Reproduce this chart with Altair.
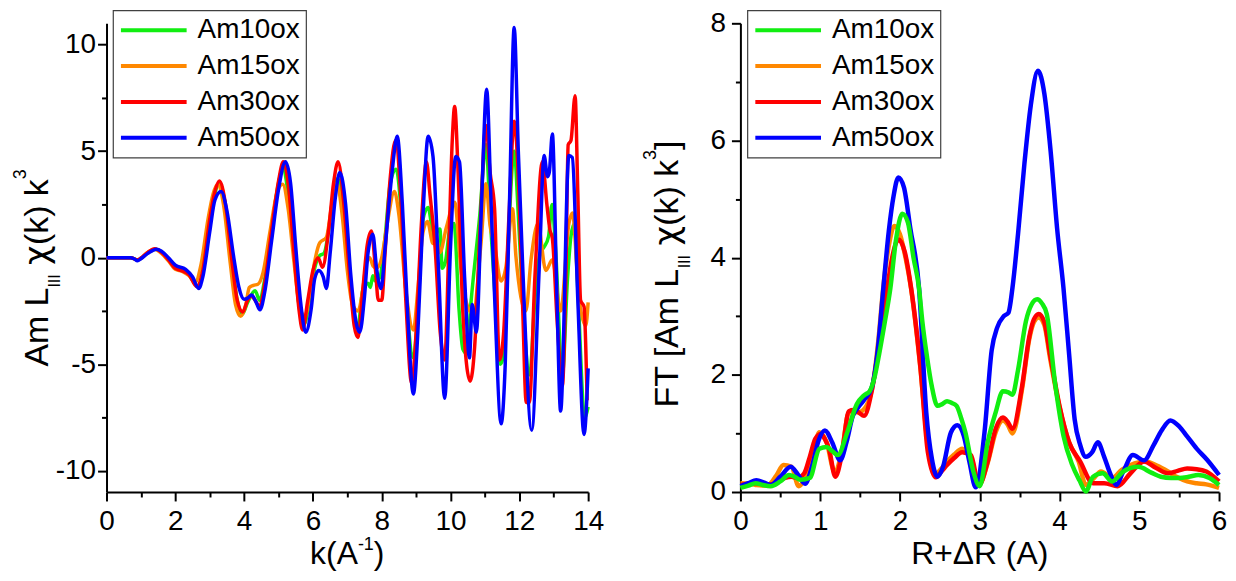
import altair as alt
import pandas as pd

FONT = "Liberation Sans"
SERIES = ["Am10ox", "Am15ox", "Am30ox", "Am50ox"]
COLORS = ["#11ee11", "#ff8800", "#ff0000", "#0000ff"]

# ---- left panel: k (A^-1) vs chi(k) k^3 ----
K10 = [0.0, 0.7, 0.9, 1.2, 1.42, 1.6, 1.8, 2.0, 2.2, 2.4, 2.65, 2.8, 3.0, 3.15, 3.28, 3.45, 3.65, 3.8, 3.95, 4.1,
       4.32, 4.45, 4.6, 4.8, 5.0, 5.12, 5.28, 5.45, 5.6, 5.75, 5.9, 6.05, 6.2, 6.32, 6.5, 6.62, 6.72, 6.9, 7.05, 7.2,
       7.31, 7.45, 7.6, 7.67, 7.74, 7.82, 7.95, 8.1, 8.25, 8.42, 8.55, 8.7, 8.92, 9.05, 9.2, 9.35, 9.45, 9.54, 9.62, 9.69,
       9.76, 9.85, 10.0, 10.1, 10.25, 10.36, 10.47, 10.6, 10.85, 11.03, 11.15, 11.28, 11.45, 11.55, 11.7, 11.85, 11.97,
       12.1, 12.3, 12.45, 12.6, 12.72, 12.85, 12.95, 13.05, 13.25, 13.4, 13.5, 13.6, 13.7, 13.9, 14.0]
C10 = [0, 0, -0.1, 0.22, 0.4, 0.28, -0.05, -0.45, -0.58, -0.8, -1.35, -0.7, 1.6, 3.0, 3.5, 2.5, -0.3, -2.0, -2.65, -2.1,
       -1.55, -2.0, -1.0, 1.4, 3.5, 4.2, 3.0, 0.3, -2.3, -3.1, -2.0, -0.5, 0.1, 0.2, 1.8, 3.3, 3.7, 2.2, -0.5, -2.8,
       -3.2, -1.5, -1.2, -1.4, -0.85, -1.1, -0.9, 1.0, 3.5, 4.15, 2.5, -1.5, -4.7, -2.5, 1.8, 2.36, 1.5, 0.75, 1.3, 1.35,
       -0.5, -0.2, 1.5, 1.6, -2.5, -4.3, -4.5, -2.0, 2.0, 5.3, 2.0, -1.5, -5.0, -4.5, 1.5, 5.0, 2.0,
       -2.0, -5.5, -2.0, 0.2, 0.5, 1.0, 2.5, 0.5, -5.5, -1.0, 1.0, 1.6, -1.5, -7.5, -7.0]

K15 = [0.0, 0.7, 0.9, 1.2, 1.4, 1.6, 1.8, 2.0, 2.2, 2.4, 2.58, 2.75, 2.95, 3.1, 3.23, 3.4, 3.6, 3.75, 3.9, 4.05,
       4.15, 4.27, 4.4, 4.55, 4.75, 4.95, 5.12, 5.28, 5.45, 5.6, 5.77, 5.92, 6.05, 6.2, 6.39, 6.55, 6.7, 6.85, 7.0, 7.15,
       7.31, 7.45, 7.55, 7.65, 7.75, 7.85, 8.0, 8.15, 8.37, 8.5, 8.7, 8.92, 9.05, 9.2, 9.33, 9.49, 9.6, 9.69, 9.88, 10.12,
       10.3, 10.46, 10.65, 10.89, 11.03, 11.15, 11.28, 11.47, 11.61, 11.8, 11.9, 12.19, 12.34, 12.54, 12.77, 12.96, 13.2,
       13.44, 13.54, 13.73, 13.93, 14.0]
C15 = [0, 0, -0.1, 0.25, 0.4, 0.2, -0.15, -0.55, -0.65, -0.85, -1.15, -0.3, 1.8, 3.0, 3.45, 2.5, -0.3, -2.2, -2.75, -2.2,
       -1.4, -1.3, -1.25, -0.7, 1.2, 3.0, 3.45, 2.3, -0.2, -2.2, -2.75, -1.6, -0.2, 0.7, 0.95, 2.5, 3.5, 2.0, -0.6, -2.2,
       -2.5, -1.5, -0.3, 0.0, -0.4, -0.5, 0.0, 1.5, 3.1, 2.0, -1.5, -3.4, -1.5, 1.2, 1.7, 0.66, 0.8, 0.24, 1.43, 2.6,
       -0.5, -2.1, -2.65, 0.75, 3.47, 1.5, 0.58, -1.1, -0.44, 2.3, 0.07, -2.5, -0.1, 1.6, -0.6, -0.1, -2.5,
       1.6, 2.1, -1.8, -3.2, -2.1]

K30 = [0.0, 0.7, 0.9, 1.0, 1.2, 1.4, 1.6, 1.8, 2.0, 2.2, 2.4, 2.62, 2.8, 3.0, 3.15, 3.28, 3.45, 3.65, 3.8, 3.96,
       4.1, 4.2, 4.32, 4.45, 4.6, 4.8, 5.0, 5.14, 5.3, 5.45, 5.6, 5.7, 5.85, 6.0, 6.15, 6.28, 6.45, 6.6, 6.73, 6.9,
       7.05, 7.2, 7.31, 7.45, 7.58, 7.7, 7.82, 7.9, 8.0, 8.1, 8.25, 8.4, 8.55, 8.7, 8.87, 9.0, 9.15, 9.3, 9.4, 9.55,
       9.7, 9.83, 9.95, 10.05, 10.12, 10.22, 10.36, 10.57, 10.7, 10.85, 11.03, 11.15, 11.28, 11.42, 11.54, 11.7, 11.85,
       11.99, 12.1, 12.2, 12.29, 12.45, 12.67, 12.8, 12.89, 12.96, 13.1, 13.25, 13.35, 13.42, 13.5, 13.62, 13.7, 13.78,
       13.88, 13.97]
C30 = [0, 0, -0.1, -0.02, 0.25, 0.42, 0.25, -0.1, -0.5, -0.62, -0.8, -1.35, -0.6, 1.8, 3.1, 3.6, 2.6, -0.2, -2.0, -2.55,
       -2.0, -1.8, -2.0, -2.3, -1.2, 1.3, 3.6, 4.5, 3.2, 0.2, -2.5, -3.4, -2.0, -0.6, 0.0, -0.45, 1.2, 3.5, 4.5, 2.5,
       -0.5, -3.2, -3.75, -1.5, 0.6, 1.25, -0.6, -2.0, -2.0, 0.3, 3.8, 5.5, 3.0, -2.0, -5.9, -3.5, 1.5, 4.5, 3.0, 0.5,
       -3.5, -4.8, 0.5, 5.5, 7.1, 4.0, -2.6, -5.8, -4.2, 1.0, 6.2, 4.0, 2.3, -4.8, -3.6, 2.0, 6.4,
       3.0, -2.5, -6.8, -6.8, -1.0, 4.5, 2.5, 1.3, 0.9, -3.0, -6.0, -1.0, 5.3, 5.5, 7.6, 3.0, -2.0,
       -2.3, -6.7]

K50 = [0.0, 0.7, 0.8, 0.9, 1.0, 1.2, 1.45, 1.6, 1.8, 2.0, 2.3, 2.5, 2.68, 2.8, 3.0, 3.15, 3.33, 3.5, 3.7, 3.85,
       4.0, 4.1, 4.22, 4.35, 4.46, 4.6, 4.8, 5.0, 5.2, 5.35, 5.5, 5.65, 5.79, 5.95, 6.05, 6.17, 6.3, 6.39, 6.5, 6.65,
       6.78, 6.95, 7.1, 7.25, 7.36, 7.5, 7.6, 7.74, 7.85, 7.98, 8.1, 8.3, 8.45, 8.6, 8.75, 8.92, 9.05, 9.2, 9.35, 9.49,
       9.65, 9.83, 10.0, 10.15, 10.26, 10.41, 10.55, 10.63, 10.75, 10.9, 11.05, 11.18, 11.28, 11.47, 11.59, 11.72, 11.85,
       11.97, 12.09, 12.36, 12.58, 12.72, 12.82, 12.87, 12.96, 13.08, 13.2, 13.44, 13.54, 13.7, 13.88, 14.0]
C50 = [0, 0, -0.05, -0.15, -0.05, 0.2, 0.4, 0.3, 0.0, -0.35, -0.55, -0.9, -1.45, -0.9, 1.2, 2.7, 3.1, 2.2, 0.0, -1.4,
       -1.95, -1.9, -1.75, -2.1, -2.45, -1.6, 0.8, 3.2, 4.5, 3.5, 0.5, -2.2, -3.5, -2.4, -1.0, -0.6, -0.9, -1.45, 0.2, 2.8,
       4.0, 2.5, -0.8, -3.0, -3.5, -1.8, 0.2, 1.1, -0.5, -1.45, 0.5, 4.0, 5.7, 2.5, -2.5, -6.4, -3.5, 2.0, 5.7, 4.75,
       -0.5, -6.6, 0.5, 4.75, 4.5, -0.95, -4.7, -2.2, -3.5, 2.5, 7.9, 2.5, -1.8, -7.8, -5.0, 3.0, 10.8,
       5.0, -0.1, -8.1, -0.4, 4.8, 3.8, 4.0, 5.8, -1.0, -7.2, 4.8, 4.7, -2.0, -8.3, -5.2]

# ---- right panel: R+dR (A) vs FT magnitude ----
R10 = [0.00, 0.10, 0.19, 0.28, 0.38, 0.50, 0.61, 0.68, 0.75, 0.87, 0.99, 1.08, 1.15, 1.22, 1.34, 1.46, 1.55, 1.62, 1.68,
       1.74, 1.81, 1.88, 1.95, 2.03, 2.10, 2.17, 2.24, 2.28, 2.34, 2.40, 2.47, 2.53, 2.59, 2.65, 2.71, 2.77, 2.82, 2.92,
       3.00, 3.10, 3.20, 3.29, 3.36, 3.41, 3.48, 3.58, 3.65, 3.72, 3.78, 3.84, 3.95, 4.05, 4.16, 4.25, 4.33, 4.42, 4.54,
       4.66, 4.80, 4.99, 5.15, 5.27, 5.40, 5.50, 5.62, 5.74, 5.88, 6.00]
F10 = [0.07, 0.11, 0.15, 0.12, 0.10, 0.18, 0.29, 0.26, 0.21, 0.24, 0.74, 0.77, 0.70, 0.63, 1.02, 1.50, 1.65, 1.72, 1.95,
       2.36, 2.90, 3.48, 4.30, 4.75, 4.60, 4.00, 3.47, 2.92, 2.30, 1.80, 1.47, 1.50, 1.55, 1.52, 1.47, 1.25, 1.02, 0.35,
       0.10, 0.85, 1.36, 1.72, 1.70, 1.66, 2.08, 2.92, 3.20, 3.29, 3.22, 3.04, 1.80, 0.96, 0.46, 0.20, 0.01, 0.26, 0.32,
       0.18, 0.35, 0.43, 0.33, 0.26, 0.24, 0.24, 0.26, 0.29, 0.24, 0.12]

R15 = [0.00, 0.10, 0.19, 0.27, 0.35, 0.45, 0.54, 0.64, 0.73, 0.85, 0.92, 0.99, 1.08, 1.18, 1.27, 1.36, 1.48, 1.58, 1.67,
       1.73, 1.79, 1.86, 1.93, 2.00, 2.07, 2.14, 2.25, 2.35, 2.45, 2.52, 2.59, 2.68, 2.78, 2.89, 2.99, 3.10, 3.20, 3.29,
       3.35, 3.41, 3.53, 3.62, 3.68, 3.74, 3.81, 3.88, 4.00, 4.12, 4.24, 4.33, 4.42, 4.52, 4.66, 4.78, 4.89, 5.08, 5.22,
       5.36, 5.48, 5.60, 5.72, 5.84, 6.00]
F15 = [0.15, 0.14, 0.12, 0.11, 0.12, 0.28, 0.46, 0.43, 0.10, 0.40, 0.72, 1.02, 0.85, 0.35, 0.68, 1.36, 1.36, 1.47, 1.92,
       2.60, 3.48, 4.20, 4.54, 4.40, 4.00, 3.47, 2.20, 0.80, 0.32, 0.40, 0.52, 0.64, 0.74, 0.57, 0.12, 0.50, 1.02, 1.22,
       1.15, 1.00, 1.75, 2.60, 2.90, 2.98, 2.85, 2.30, 1.45, 0.85, 0.52, 0.12, 0.22, 0.35, 0.24, 0.38, 0.46, 0.52, 0.45,
       0.35, 0.25, 0.18, 0.15, 0.13, 0.07]

R30 = [0.00, 0.10, 0.19, 0.28, 0.38, 0.47, 0.56, 0.64, 0.71, 0.80, 0.87, 0.94, 1.01, 1.06, 1.11, 1.19, 1.27, 1.36, 1.42,
       1.48, 1.55, 1.65, 1.74, 1.84, 1.91, 1.98, 2.06, 2.14, 2.26, 2.35, 2.45, 2.52, 2.59, 2.68, 2.78, 2.89, 2.99, 3.10,
       3.20, 3.29, 3.35, 3.41, 3.53, 3.62, 3.68, 3.74, 3.81, 3.88, 4.00, 4.12, 4.26, 4.42, 4.56, 4.73, 4.89, 5.06, 5.20,
       5.36, 5.48, 5.60, 5.72, 5.84, 6.00]
F30 = [0.12, 0.14, 0.15, 0.14, 0.13, 0.18, 0.24, 0.26, 0.24, 0.32, 0.60, 0.91, 0.99, 0.90, 0.74, 0.26, 0.63, 1.38, 1.40,
       1.36, 1.30, 1.75, 2.53, 3.48, 4.05, 4.31, 4.10, 3.48, 2.08, 0.68, 0.25, 0.35, 0.46, 0.58, 0.68, 0.63, 0.12, 0.52,
       1.08, 1.27, 1.20, 1.08, 1.80, 2.64, 2.95, 3.04, 2.90, 2.36, 1.47, 0.85, 0.52, 0.15, 0.15, 0.10, 0.32, 0.52, 0.42,
       0.32, 0.36, 0.40, 0.39, 0.35, 0.18]

R50 = [0.00, 0.10, 0.20, 0.30, 0.38, 0.50, 0.63, 0.72, 0.81, 0.90, 0.98, 1.06, 1.15, 1.25, 1.33, 1.41, 1.48, 1.55, 1.65,
       1.72, 1.79, 1.86, 1.92, 1.98, 2.05, 2.13, 2.24, 2.33, 2.40, 2.47, 2.54, 2.64, 2.72, 2.80, 2.87, 2.95, 3.06, 3.15,
       3.22, 3.30, 3.36, 3.41, 3.48, 3.56, 3.64, 3.73, 3.81, 3.89, 3.97, 4.05, 4.12, 4.19, 4.26, 4.33, 4.41, 4.48, 4.56,
       4.64, 4.71, 4.80, 4.92, 5.06, 5.18, 5.28, 5.39, 5.50, 5.60, 5.72, 5.85, 6.00]
F50 = [0.10, 0.15, 0.20, 0.16, 0.12, 0.26, 0.43, 0.30, 0.14, 0.45, 0.88, 1.05, 0.85, 0.54, 0.85, 1.30, 1.45, 1.57, 1.80,
       2.40, 3.45, 4.45, 5.05, 5.37, 5.20, 4.50, 3.47, 1.36, 0.57, 0.26, 0.43, 1.02, 1.14, 0.96, 0.52, 0.08, 1.02, 2.42,
       2.81, 3.00, 3.06, 3.48, 4.40, 5.60, 6.60, 7.19, 6.80, 5.80, 4.50, 3.48, 2.36, 1.24, 0.80, 0.60, 0.68, 0.85, 0.60,
       0.30, 0.12, 0.35, 0.63, 0.54, 0.80, 1.05, 1.22, 1.12, 0.95, 0.74, 0.55, 0.29]

LEFT_X_MAJOR = [0, 2, 4, 6, 8, 10, 12, 14]
LEFT_X_MINOR = [1, 3, 5, 7, 9, 11, 13]
LEFT_Y_MAJOR = [-10, -5, 0, 5, 10]
LEFT_Y_MINOR = [-7.5, -2.5, 2.5, 7.5]
RIGHT_X_MAJOR = [0, 1, 2, 3, 4, 5, 6]
RIGHT_X_MINOR = [0.5, 1.5, 2.5, 3.5, 4.5, 5.5]
RIGHT_Y_MAJOR = [0, 2, 4, 6, 8]
RIGHT_Y_MINOR = [1, 3, 5, 7]


def frame(xs, ys, name):
    return pd.DataFrame({"x": xs, "y": ys, "series": name})


LEFT = {"Am10ox": frame(K10, C10, "Am10ox"), "Am15ox": frame(K15, C15, "Am15ox"),
        "Am30ox": frame(K30, C30, "Am30ox"), "Am50ox": frame(K50, C50, "Am50ox")}
RIGHT = {"Am10ox": frame(R10, F10, "Am10ox"), "Am15ox": frame(R15, F15, "Am15ox"),
         "Am30ox": frame(R30, F30, "Am30ox"), "Am50ox": frame(R50, F50, "Am50ox")}

H = 471
LABEL_EXPR = "datum.value < 0 ? '-' + abs(datum.value) : '' + datum.value"


def major_axis(orient, values, pad):
    return alt.Axis(orient=orient, values=values, title=None, grid=False, tickSize=9, tickWidth=2,
                    domainWidth=2, domainColor="black", tickColor="black", labelFontSize=28,
                    labelFont=FONT, labelColor="black", labelPadding=pad, labelFlush=False,
                    labelOverlap=False, labelExpr=LABEL_EXPR)


def minor_axis(orient, values):
    return alt.Axis(orient=orient, values=values, title=None, grid=False, labels=False, domain=False,
                    tickSize=5, tickWidth=2, tickColor="black")


def legend_at(x):
    return alt.Legend(orient="none", legendX=x, legendY=-13, title=None, symbolType="stroke",
                      symbolSize=4356, symbolStrokeWidth=4, labelFontSize=28, labelFont=FONT,
                      labelColor="black", labelOffset=9, rowPadding=8, padding=6, clipHeight=28,
                      strokeColor="#404040", fillColor="white", labelLimit=0)


def txt(s, x, y, size, angle=270, align="left", font=FONT):
    return alt.Chart(alt.InlineData(values=[{"t": s}])).mark_text(
        angle=angle, align=align, baseline="alphabetic", fontSize=size, font=font, color="black"
    ).encode(x=alt.value(x), y=alt.value(y), text="t:N")


def panel(frames, order, xdom, ydom, xmaj, xmin, ymaj, ymin, width, sw, legx, ypad, texts):
    xs = alt.Scale(domain=xdom, nice=False, zero=False)
    ys = alt.Scale(domain=ydom, nice=False, zero=False)
    cs = alt.Scale(domain=SERIES, range=COLORS)
    layers = []
    for i, name in enumerate(order):
        xa = major_axis("bottom", xmaj, 7) if i == 0 else None
        ya = major_axis("left", ymaj, ypad) if i == 0 else None
        layers.append(
            alt.Chart(frames[name]).mark_line(strokeWidth=sw, interpolate="monotone").encode(
                x=alt.X("x:Q", scale=xs, axis=xa),
                y=alt.Y("y:Q", scale=ys, axis=ya),
                color=alt.Color("series:N", scale=cs, legend=legend_at(legx)),
            )
        )
    layers.append(
        alt.Chart(frames[order[0]]).mark_point(opacity=0).encode(
            x=alt.X("x:Q", scale=xs, axis=minor_axis("bottom", xmin)),
            y=alt.Y("y:Q", scale=ys, axis=minor_axis("left", ymin)),
        )
    )
    layers += texts
    return alt.layer(*layers).resolve_axis(x="independent", y="independent").properties(width=width, height=H)


GREEK = "DejaVu Sans"
left_texts = [
    txt("Am L", -59, 345, 34),
    txt("III", -47, 265.6, 16),
    txt("χ", -59, 242.8, 34, font=GREEK),
    txt("(k) k", -59, 222.8, 34),
    txt("3", -81, 156.7, 18),
    txt("k(A", 204.6, 543, 32, angle=0),
    txt("-1", 252.6, 529, 18, angle=0),
    txt(")", 268.6, 543, 32, angle=0),
]
right_texts = [
    txt("FT [Am L", -63, 386, 34),
    txt("III", -51, 246.2, 16),
    txt("χ", -63, 223.4, 34, font=GREEK),
    txt("(k) k", -63, 203.4, 34),
    txt("3", -85, 137.3, 18),
    txt("]", -63, 127.3, 34),
    txt("R+ΔR (A)", 240.5, 543, 32, angle=0, align="center"),
]

left = panel(LEFT, ["Am10ox", "Am15ox", "Am30ox", "Am50ox"], [0, 14], [-11, 11],
             LEFT_X_MAJOR, LEFT_X_MINOR, LEFT_Y_MAJOR, LEFT_Y_MINOR, 484, 3.5, 6.5, 2, left_texts)
right = panel(RIGHT, ["Am15ox", "Am30ox", "Am50ox", "Am10ox"], [0, 6], [0, 8],
              RIGHT_X_MAJOR, RIGHT_X_MINOR, RIGHT_Y_MAJOR, RIGHT_Y_MINOR, 481, 4.5, 7, 6, right_texts)

chart = alt.hconcat(left, right, spacing=153, bounds="flush").resolve_scale(color="independent").properties(
    padding={"left": 4, "top": 0, "right": 0, "bottom": 0}, background="white"
).configure_view(stroke=None).configure_legend(strokeWidth=1.2)

chart.save("out.html", embed_options={"renderer": "svg", "actions": False})
